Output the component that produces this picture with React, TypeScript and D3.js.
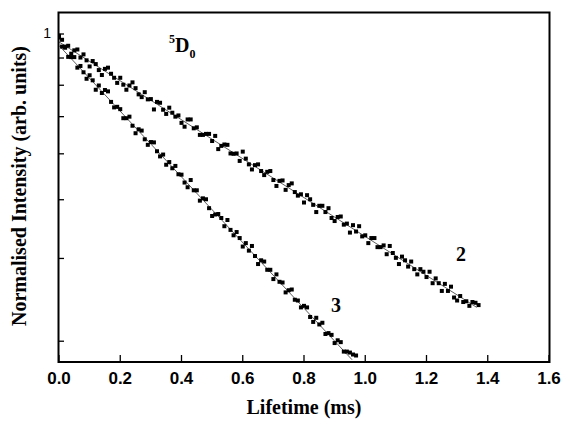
import React from "react";
import * as d3 from "d3";

// Series 2 (lifetime in ms, normalised intensity)
const series2: [number, number][] = [
  [0.00, 0.991], [0.01, 0.972], [0.02, 0.935], [0.03, 0.944], [0.04, 0.908], [0.05, 0.923], [0.06, 0.927], [0.07, 0.891], [0.08, 0.905], [0.09, 0.879],
  [0.10, 0.853], [0.11, 0.876], [0.12, 0.863], [0.13, 0.838], [0.14, 0.818], [0.15, 0.843], [0.16, 0.848], [0.17, 0.823], [0.18, 0.807], [0.19, 0.787],
  [0.20, 0.807], [0.21, 0.780], [0.22, 0.761], [0.23, 0.777], [0.24, 0.789], [0.25, 0.767], [0.26, 0.744], [0.27, 0.734], [0.28, 0.752], [0.29, 0.726],
  [0.30, 0.727], [0.31, 0.691], [0.32, 0.717], [0.33, 0.714], [0.34, 0.690], [0.35, 0.676], [0.36, 0.697], [0.37, 0.680], [0.38, 0.667], [0.39, 0.671],
  [0.40, 0.647], [0.41, 0.635], [0.42, 0.658], [0.43, 0.658], [0.44, 0.630], [0.45, 0.633], [0.46, 0.610], [0.47, 0.610], [0.48, 0.613], [0.49, 0.613],
  [0.50, 0.592], [0.51, 0.607], [0.52, 0.569], [0.53, 0.578], [0.54, 0.582], [0.55, 0.581], [0.56, 0.557], [0.57, 0.556], [0.58, 0.557], [0.59, 0.537],
  [0.60, 0.562], [0.61, 0.543], [0.62, 0.528], [0.63, 0.515], [0.64, 0.526], [0.65, 0.528], [0.66, 0.511], [0.67, 0.501], [0.68, 0.509], [0.69, 0.511],
  [0.70, 0.489], [0.71, 0.475], [0.72, 0.487], [0.73, 0.488], [0.74, 0.466], [0.75, 0.477], [0.76, 0.481], [0.77, 0.461], [0.78, 0.453], [0.79, 0.456],
  [0.80, 0.438], [0.81, 0.454], [0.82, 0.445], [0.83, 0.433], [0.84, 0.418], [0.85, 0.431], [0.86, 0.431], [0.87, 0.418], [0.88, 0.426], [0.89, 0.406],
  [0.90, 0.400], [0.91, 0.408], [0.92, 0.409], [0.93, 0.393], [0.94, 0.395], [0.95, 0.378], [0.96, 0.392], [0.97, 0.380], [0.98, 0.390], [0.99, 0.371],
  [1.00, 0.373], [1.01, 0.359], [1.02, 0.368], [1.03, 0.368], [1.04, 0.352], [1.05, 0.352], [1.06, 0.355], [1.07, 0.340], [1.08, 0.354], [1.09, 0.342],
  [1.10, 0.334], [1.11, 0.324], [1.12, 0.336], [1.13, 0.330], [1.14, 0.320], [1.15, 0.328], [1.16, 0.316], [1.17, 0.308], [1.18, 0.316], [1.19, 0.312],
  [1.20, 0.304], [1.21, 0.312], [1.22, 0.295], [1.23, 0.302], [1.24, 0.295], [1.25, 0.284], [1.26, 0.294], [1.27, 0.284], [1.28, 0.290], [1.29, 0.275],
  [1.30, 0.271], [1.31, 0.277], [1.32, 0.269], [1.33, 0.270], [1.34, 0.264], [1.35, 0.269], [1.36, 0.268], [1.37, 0.265],
];

// Series 3
const series3: [number, number][] = [
  [0.00, 0.983], [0.01, 0.940], [0.02, 0.940], [0.03, 0.894], [0.04, 0.893], [0.05, 0.893], [0.06, 0.848], [0.07, 0.855], [0.08, 0.829], [0.09, 0.803],
  [0.10, 0.817], [0.11, 0.797], [0.12, 0.761], [0.13, 0.777], [0.14, 0.749], [0.15, 0.760], [0.16, 0.755], [0.17, 0.717], [0.18, 0.698], [0.19, 0.700],
  [0.20, 0.692], [0.21, 0.662], [0.22, 0.662], [0.23, 0.667], [0.24, 0.638], [0.25, 0.615], [0.26, 0.627], [0.27, 0.623], [0.28, 0.597], [0.29, 0.581],
  [0.30, 0.589], [0.31, 0.588], [0.32, 0.563], [0.33, 0.549], [0.34, 0.554], [0.35, 0.527], [0.36, 0.534], [0.37, 0.518], [0.38, 0.524], [0.39, 0.503],
  [0.40, 0.502], [0.41, 0.483], [0.42, 0.472], [0.43, 0.489], [0.44, 0.465], [0.45, 0.465], [0.46, 0.442], [0.47, 0.447], [0.48, 0.445], [0.49, 0.426],
  [0.50, 0.410], [0.51, 0.413], [0.52, 0.414], [0.53, 0.406], [0.54, 0.390], [0.55, 0.402], [0.56, 0.383], [0.57, 0.373], [0.58, 0.379], [0.59, 0.368],
  [0.60, 0.353], [0.61, 0.359], [0.62, 0.346], [0.63, 0.354], [0.64, 0.337], [0.65, 0.324], [0.66, 0.330], [0.67, 0.328], [0.68, 0.315], [0.69, 0.315],
  [0.70, 0.301], [0.71, 0.308], [0.72, 0.297], [0.73, 0.296], [0.74, 0.282], [0.75, 0.285], [0.76, 0.286], [0.77, 0.272], [0.78, 0.271], [0.79, 0.262],
  [0.80, 0.264], [0.81, 0.262], [0.82, 0.250], [0.83, 0.244], [0.84, 0.249], [0.85, 0.241], [0.86, 0.243], [0.87, 0.230], [0.88, 0.231], [0.89, 0.229],
  [0.90, 0.220], [0.91, 0.223], [0.92, 0.221], [0.93, 0.211], [0.94, 0.211], [0.95, 0.210], [0.96, 0.208], [0.97, 0.207],
];

// Fitted exponential decays (end points; straight on a log axis)
const fit2: [number, number][] = [[0, 0.962], [1.364, 0.262]];
const fit3: [number, number][] = [[0, 0.945], [0.957, 0.2027]];

const xTicks = [0, 0.2, 0.4, 0.6, 0.8, 1.0, 1.2, 1.4, 1.6];
const yTicks = [1, 0.889, 0.778, 0.667, 0.556, 0.444, 0.333, 0.222];
const yTickLabels: Record<string, string> = { "1": "1" };

const W = 564, H = 422;
const x = d3.scaleLinear().domain([0, 1.6]).range([59, 549]);
const y = d3.scaleLog().domain([1.11, 0.201]).range([12.7, 361.5]);

const line = d3.line<[number, number]>().x(d => x(d[0])).y(d => y(d[1]));

export default function App() {
  const serif = "'Liberation Serif', 'Times New Roman', serif";
  const sans = "'Liberation Sans', Arial, sans-serif";
  const sq = 4;
  return (
    <svg width={W} height={H} style={{ position: "absolute", left: 0, top: 0, background: "#fff" }}>
      <rect x={0} y={0} width={W} height={H} fill="#fff" />
      <defs>
        <clipPath id="plot">
          <rect x={59} y={13} width={490} height={348} />
        </clipPath>
      </defs>
      <g clipPath="url(#plot)">
        <path d={line(fit2) || ""} fill="none" stroke="#333" strokeWidth={0.8} />
        <path d={line(fit3) || ""} fill="none" stroke="#333" strokeWidth={0.8} />
        {series2.map((d, i) => (
          <rect key={"a" + i} x={x(d[0]) - sq / 2} y={y(d[1]) - sq / 2} width={sq} height={sq} fill="#000" />
        ))}
        {series3.map((d, i) => (
          <rect key={"b" + i} x={x(d[0]) - sq / 2} y={y(d[1]) - sq / 2} width={sq} height={sq} fill="#000" />
        ))}
      </g>
      {/* frame */}
      <rect x={58.5} y={12.5} width={491} height={349.5} fill="none" stroke="#000" strokeWidth={2} />
      {/* x ticks */}
      {xTicks.map(t => (
        <g key={"xt" + t}>
          <line x1={x(t)} x2={x(t)} y1={361} y2={355} stroke="#000" strokeWidth={1.3} />
          <text x={x(t)} y={384} textAnchor="middle" fontFamily={sans} fontWeight="bold" fontSize={17}>
            {t.toFixed(1)}
          </text>
        </g>
      ))}
      {/* y ticks */}
      {yTicks.map(t => (
        <g key={"yt" + t}>
          <line x1={59} x2={64} y1={y(t)} y2={y(t)} stroke="#000" strokeWidth={1.3} />
          {yTickLabels[String(t)] && (
            <text x={51} y={y(t) + 4} textAnchor="end" fontFamily={sans} fontSize={14}>
              {yTickLabels[String(t)]}
            </text>
          )}
        </g>
      ))}
      {/* axis titles */}
      <text x={304} y={414} textAnchor="middle" fontFamily={serif} fontWeight="bold" fontSize={20}>
        Lifetime (ms)
      </text>
      <text
        transform={`translate(26,186) rotate(-90)`}
        textAnchor="middle"
        fontFamily={serif}
        fontWeight="bold"
        fontSize={20}
      >
        Normalised Intensity (arb. units)
      </text>
      {/* annotations */}
      <text x={169} y={52} fontFamily={serif} fontWeight="bold" fontSize={20}>
        <tspan fontSize={12} dy={-9}>5</tspan>
        <tspan dy={9}>D</tspan>
        <tspan fontSize={12} dy={6}>0</tspan>
      </text>
      <text x={456} y={261} fontFamily={serif} fontWeight="bold" fontSize={20}>2</text>
      <text x={331} y={312} fontFamily={serif} fontWeight="bold" fontSize={20}>3</text>
    </svg>
  );
}
